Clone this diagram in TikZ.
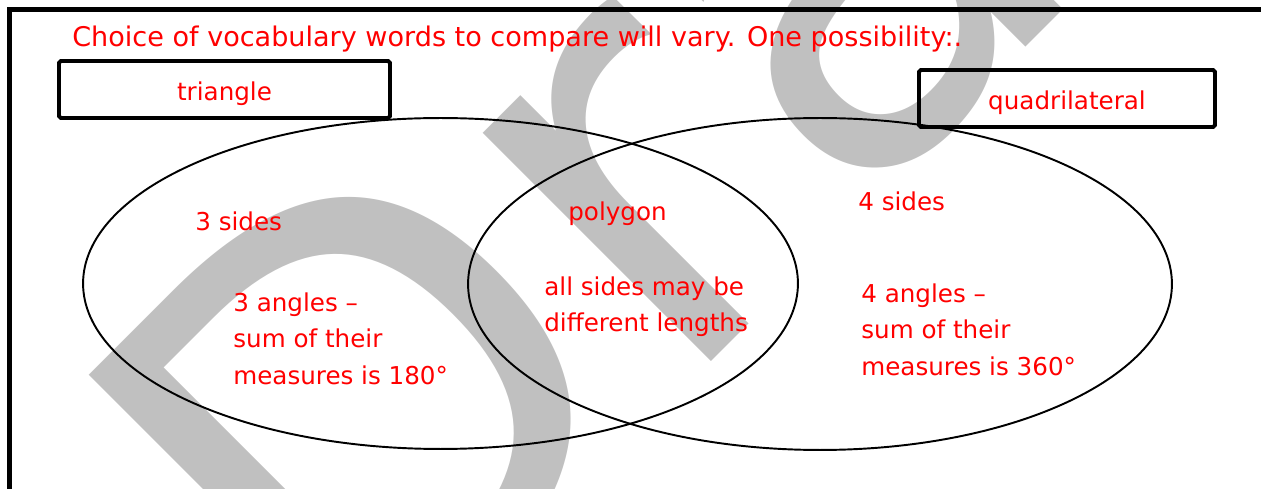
\documentclass[tikz,border=0pt]{standalone}
\usepackage{fontspec}
\setmainfont{DejaVu Sans}
\usetikzlibrary{positioning, shapes.geometric}
\definecolor{redColor}{RGB}{255,0,0}
\definecolor{grayColor}{RGB}{192,192,192}

\begin{document}
\begin{tikzpicture}[
    x=0.02cm, y=-0.02cm,
    conjunto/.style={
        ellipse,
        draw=black,
        line width=1.1pt,
        inner sep=0pt
    },
    caja/.style={
        rectangle,
        rounded corners=1pt,
        draw=black,
        line width=2.2pt,
        text=redColor,
        font=\fontsize{14}{17}\selectfont,
        text height=0.52cm,
        text depth=0.08cm,
        minimum height=1.14cm
    },
    texto/.style={
        text=redColor,
        inner sep=0pt,
        align=left,
        font=\fontsize{14}{21}\selectfont
    },
    marca/.style={
        text=grayColor,
        inner sep=0pt,
        rotate=45,
        font=\fontsize{336}{336}\selectfont
    }
]
    \useasboundingbox (0,0) rectangle (1261,489);

    % watermark behind everything
    \begin{scope}
        \clip (0,0) rectangle (1261,489);
        \node[marca, anchor=base west] (marcaAgua) at (352,721) {Draft};
    \end{scope}

    % frame
    \draw[line width=2.8pt] (9.5,489) -- (9.5,9.5) -- (1261,9.5);

    \node[texto, anchor=base west, font=\fontsize{15.4}{18}\selectfont] (titulo) at (72,47)
        {Choice of vocabulary words to compare will vary. One possibility:.};

    \node[caja, minimum width=6.62cm] (cajaTri) at (224.5,89.5) {triangle};
    \node[caja, minimum width=5.92cm] (cajaQuad) at (1067,98.5) {quadrilateral};

    \node[conjunto, minimum width=14.3cm, minimum height=6.62cm] (setTri) at (440.5,283.5) {};
    \node[conjunto, minimum width=14.08cm, minimum height=6.64cm] (setQuad) at (820,284) {};

    \node[texto, anchor=base west] (ladosTri) at (195,231) {3 sides};
    \node[texto, anchor=north west] (angulosTri) at (233,292)
        {3 angles –\\sum of their\\measures is 180°};

    \node[texto, anchor=base west] (poligono) at (568,221) {polygon};
    \node[texto, anchor=north west] (comun) at (544,276)
        {all sides may be\\different lengths};

    \node[texto, anchor=base west] (ladosQuad) at (858,211) {4 sides};
    \node[texto, anchor=north west] (angulosQuad) at (861,283)
        {4 angles –\\sum of their\\measures is 360°};

\end{tikzpicture}
\end{document}
